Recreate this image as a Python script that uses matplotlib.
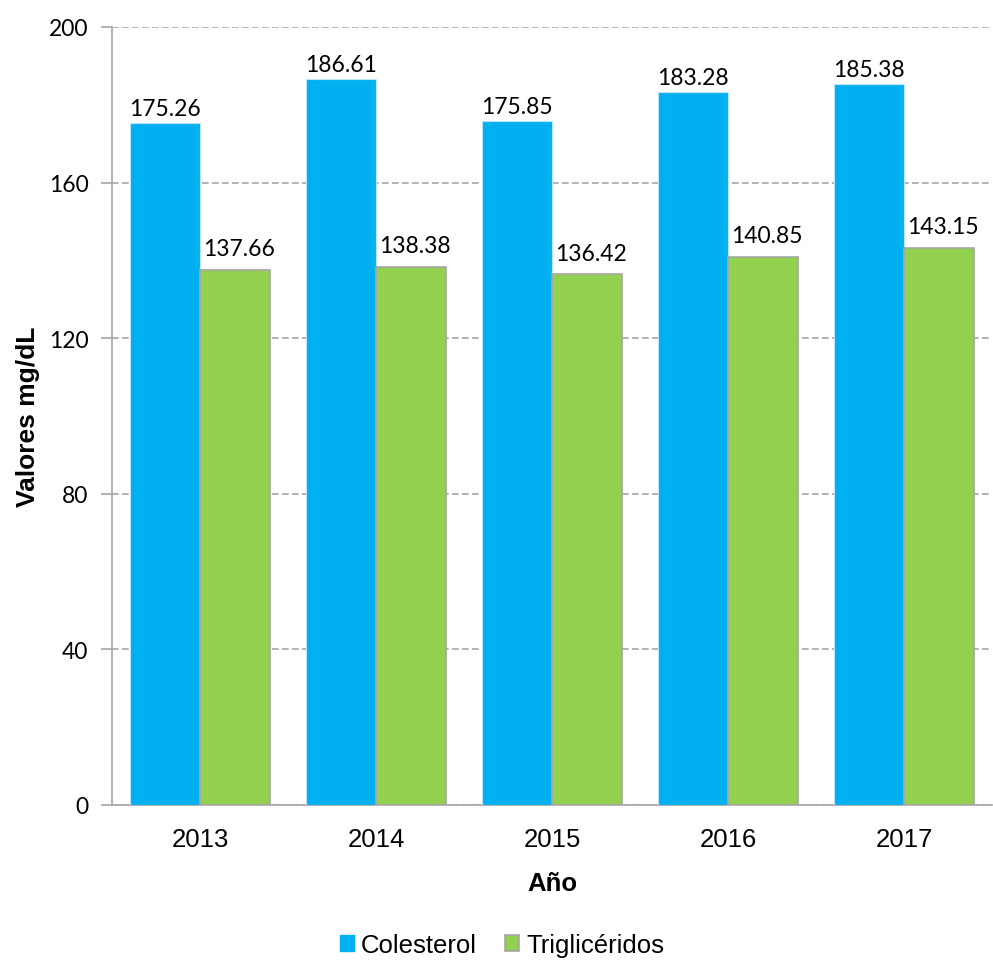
import matplotlib
matplotlib.use("Agg")
import matplotlib.pyplot as plt
import numpy as np
from matplotlib.patches import Patch

years = ["2013", "2014", "2015", "2016", "2017"]
colesterol = [175.26, 186.61, 175.85, 183.28, 185.38]
trigliceridos = [137.66, 138.38, 136.42, 140.85, 143.15]
yticks = [0, 40, 80, 120, 160, 200]

blue = "#00B0F0"
green = "#92D050"
gray = "#A6A6A6"

fig = plt.figure(figsize=(9.93, 9.62), dpi=100)
ax = fig.add_axes([112/993, 1-806/962, 880/993, (806-28)/962])

x = np.arange(len(years))
w = 0.4
b1 = ax.bar(x - w/2, colesterol, w, color=blue, edgecolor="#BDE3F5", linewidth=0.8, zorder=3, label="Colesterol")
b2 = ax.bar(x + w/2, trigliceridos, w, color=green, edgecolor=gray, linewidth=1.2, zorder=3, label="Triglicéridos")

for rect, v in zip(b1, colesterol):
    ax.text(rect.get_x() + rect.get_width()/2, v + 2.0, f"{v:.2f}", ha="center", va="baseline",
            fontsize=16.5, family="Lato", color="black")
for rect, v in zip(b2, trigliceridos):
    ax.text(rect.get_x() + rect.get_width()/2 + 0.02, v + 3.8, f"{v:.2f}", ha="center", va="baseline",
            fontsize=16.5, family="Lato", color="black")

ax.set_xlim(-0.5, len(years) - 0.5)
ax.set_ylim(0, 200)
ax.set_yticks(yticks)
ax.set_yticklabels([str(t) for t in yticks], family="Lato", fontsize=16.5)
ax.set_xticks(x)
ax.set_xticklabels(years, family="Liberation Sans", fontsize=18.5)
ax.tick_params(axis="x", length=0, pad=16)
ax.tick_params(axis="y", length=8, width=1.2, color=gray, pad=9)

ax.yaxis.grid(True, linestyle=(0, (4, 2)), color="#A6A6A6", linewidth=1.2, zorder=0)
ax.set_axisbelow(True)
for s in ["top", "right"]:
    ax.spines[s].set_visible(False)
ax.spines["left"].set_color(gray)
ax.spines["left"].set_linewidth(1.2)
ax.spines["bottom"].set_color(gray)
ax.spines["bottom"].set_linewidth(1.2)

ax.set_xlabel("Año", family="Liberation Sans", fontsize=18.5, fontweight="bold", labelpad=14)
ax.set_ylabel("Valores mg/dL", family="Liberation Sans", fontsize=19, fontweight="bold", labelpad=6)

handles = [Patch(facecolor=blue, edgecolor=blue, label="Colesterol"),
           Patch(facecolor=green, edgecolor=gray, linewidth=1.2, label="Triglicéridos")]
fig.legend(handles=handles, loc="center", bbox_to_anchor=(502/993, 1-946/962), ncol=2, frameon=False,
           prop={"family": "Liberation Sans", "size": 18.5}, handlelength=0.55, handleheight=0.55,
           handletextpad=0.28, columnspacing=1.1)

fig.savefig("out.png", dpi=100)
